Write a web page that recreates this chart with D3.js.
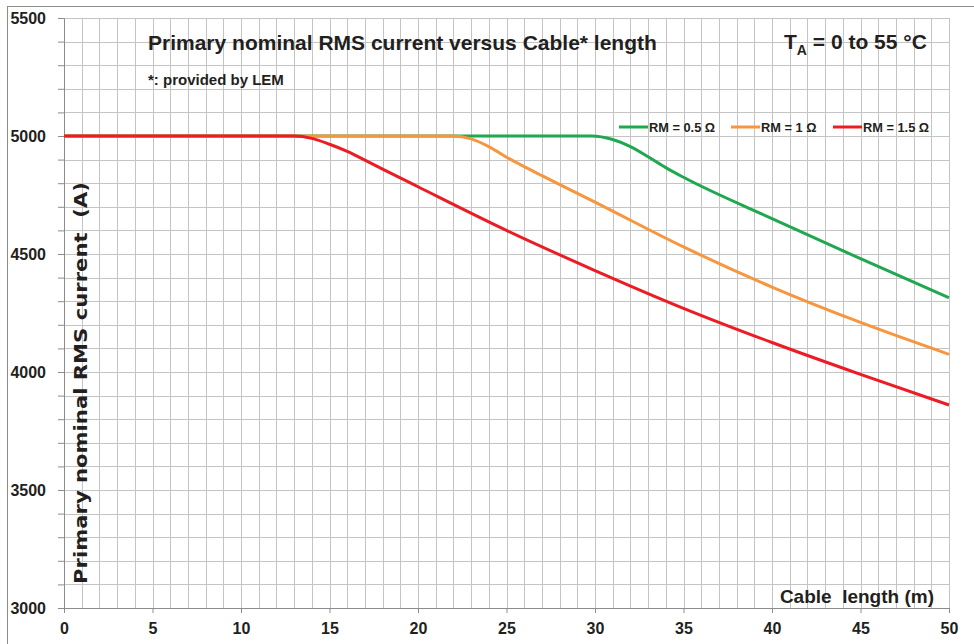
<!DOCTYPE html>
<html>
<head>
<meta charset="utf-8">
<script src="https://cdn.jsdelivr.net/npm/d3@7"></script>
<style>
  body { margin: 0; background: #fff; }
  svg { display: block; font-family: "Liberation Sans", Arial, sans-serif; }
  .tick text { font-weight: bold; fill: #231f20; }
</style>
</head>
<body>
<div id="chart"></div>
<script>
// cable length (m) / primary nominal RMS current (A)
const lenGreen = [0, 10, 20, 29, 29.8, 31, 32, 33, 34, 35, 40, 45, 50];
const curGreen = [5000, 5000, 5000, 5000, 5000, 4985, 4955, 4912, 4866, 4825, 4650, 4480, 4315];
const lenOrange = [0, 10, 20, 22, 23, 24, 25, 26, 27, 30, 35, 40, 45, 50];
const curOrange = [5000, 5000, 5000, 5000, 4988, 4955, 4910, 4870, 4832, 4720, 4530, 4360, 4210, 4075];
const lenRed = [0, 5, 10, 13, 14, 15, 16, 17, 18, 20, 25, 30, 35, 40, 45, 50];
const curRed = [5000, 5000, 5000, 5000, 4990, 4965, 4935, 4898, 4860, 4785, 4600, 4430, 4270, 4125, 3990, 3860];

const seriesNames = ["RM = 0.5 \u03A9", "RM = 1 \u03A9", "RM = 1.5 \u03A9"];
const seriesColors = ["#1fa84f", "#f7963e", "#ed1c24"];
const xTicks = [0, 5, 10, 15, 20, 25, 30, 35, 40, 45, 50];
const yTicks = [3000, 3500, 4000, 4500, 5000, 5500];

const width = 974, height = 644;
const margin = { top: 18, right: 25, bottom: 36, left: 64 };
const w = width - margin.left - margin.right;
const h = height - margin.top - margin.bottom;

const svg = d3.select("#chart").append("svg")
    .attr("width", width)
    .attr("height", height);

// outer frame
svg.append("rect")
    .attr("x", 7.5).attr("y", 6.5)
    .attr("width", width).attr("height", height)
    .attr("fill", "none").attr("stroke", "#8c8c8c");

const g = svg.append("g")
    .attr("transform", "translate(" + margin.left + "," + margin.top + ")");

const x = d3.scaleLinear().domain([0, 50]).range([0, w]);
const y = d3.scaleLinear().domain([3000, 5500]).range([h, 0]);

// grid every 1 m and 100 A
g.append("g")
    .selectAll("line")
    .data(d3.range(1, 51))
    .enter().append("line")
    .attr("x1", d => Math.round(x(d)) + 0.5).attr("x2", d => Math.round(x(d)) + 0.5)
    .attr("y1", 0).attr("y2", h)
    .attr("stroke", "#c4c4c4");
g.append("g")
    .selectAll("line")
    .data(d3.range(3100, 5501, 100))
    .enter().append("line")
    .attr("x1", 0).attr("x2", w)
    .attr("y1", d => Math.round(y(d)) + 0.5).attr("y2", d => Math.round(y(d)) + 0.5)
    .attr("stroke", "#c4c4c4");

// axes
const xAxis = g.append("g")
    .attr("transform", "translate(0," + h + ")")
    .call(d3.axisBottom(x).tickValues(xTicks).tickSize(5).tickPadding(10));
xAxis.selectAll("text").style("font-size", "16px");

const yAxis = g.append("g")
    .call(d3.axisLeft(y).tickValues(d3.range(3000, 5501, 100)).tickSize(6).tickPadding(12)
        .tickFormat(d => yTicks.includes(d) ? d : ""));
yAxis.selectAll("text").style("font-size", "16px");

[xAxis, yAxis].forEach(a => {
    a.select(".domain").attr("stroke", "#8c8c8c");
    a.selectAll(".tick line").attr("stroke", "#8c8c8c");
});

// curves
const lineGen = d3.line()
    .x(d => x(d[0]))
    .y(d => y(d[1]))
    .curve(d3.curveMonotoneX);

const series = [
    d3.zip(lenGreen, curGreen),
    d3.zip(lenOrange, curOrange),
    d3.zip(lenRed, curRed)
];

series.forEach((s, i) => {
    g.append("path")
        .datum(s)
        .attr("fill", "none")
        .attr("stroke", seriesColors[i])
        .attr("stroke-width", 3)
        .attr("d", lineGen);
});

// legend
const legendX = [555, 667, 769];
const legend = g.append("g").attr("transform", "translate(0,109)");
seriesNames.forEach((name, i) => {
    legend.append("line")
        .attr("x1", legendX[i]).attr("x2", legendX[i] + 29)
        .attr("y1", 0).attr("y2", 0)
        .attr("stroke", seriesColors[i]).attr("stroke-width", 3);
    legend.append("text")
        .attr("x", legendX[i] + 30).attr("y", 4.5)
        .style("font-size", "12.8px").style("font-weight", "bold")
        .attr("fill", "#231f20")
        .text(name);
});

// titles
svg.append("text")
    .attr("x", 148).attr("y", 50)
    .style("font-size", "21px").style("font-weight", "bold")
    .attr("fill", "#231f20")
    .text("Primary nominal RMS current versus Cable* length");

svg.append("text")
    .attr("x", 148).attr("y", 85)
    .style("font-size", "15px").style("font-weight", "bold")
    .attr("fill", "#231f20")
    .text("*: provided by LEM");

const ta = svg.append("text")
    .attr("x", 784).attr("y", 49)
    .style("font-size", "21px").style("font-weight", "bold")
    .attr("fill", "#231f20");
ta.append("tspan").text("T");
ta.append("tspan").attr("dy", 6).style("font-size", "14px").text("A");
ta.append("tspan").attr("dy", -6).text(" = 0 to 55 \u00B0C");

svg.append("text")
    .attr("transform", "translate(87,383) rotate(-90)")
    .attr("text-anchor", "middle")
    .attr("textLength", 402).attr("lengthAdjust", "spacingAndGlyphs")
    .style("font-family", "'DejaVu Sans', sans-serif")
    .style("font-size", "18.5px").style("font-weight", "bold")
    .attr("fill", "#231f20")
    .text("Primary nominal RMS current\u00A0 (A)");

svg.append("text")
    .attr("x", 934).attr("y", 603)
    .attr("text-anchor", "end")
    .style("font-size", "19px").style("font-weight", "bold")
    .attr("fill", "#231f20")
    .text("Cable\u00A0 length (m)");
</script>
</body>
</html>
